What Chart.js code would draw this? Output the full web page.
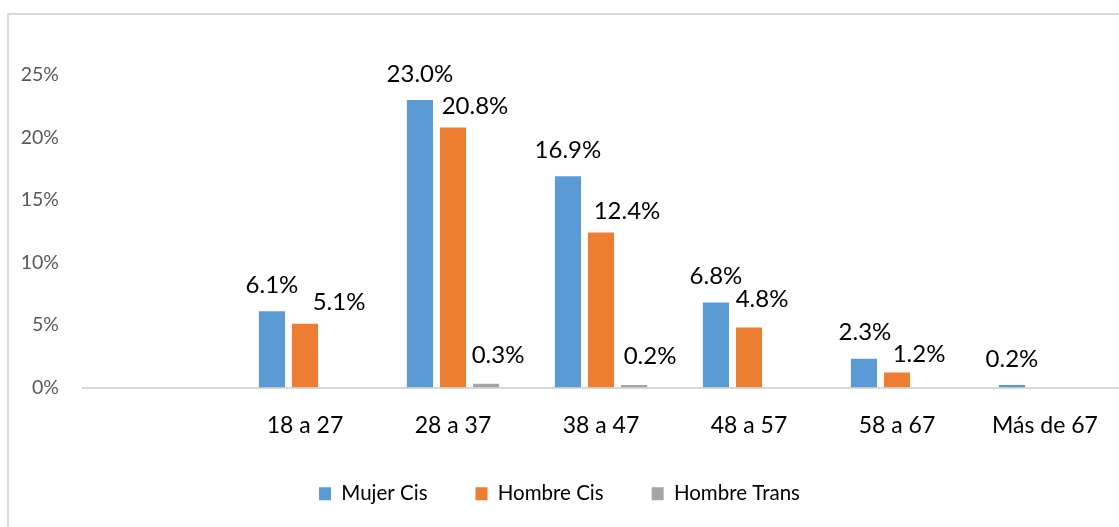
<!DOCTYPE html>
<html>
<head>
<meta charset="utf-8">
<script src="https://cdn.jsdelivr.net/npm/chart.js@4.4.1/dist/chart.umd.min.js"></script>
<style>
    body { margin: 0; background: #fff; overflow: hidden; }
    #frame {
        position: absolute; left: 7px; top: 13px; width: 1200px; height: 600px;
        border-left: 2px solid #d9d9d9; border-top: 2px solid #d9d9d9;
    }
    #chart { position: absolute; left: 0; top: 0; }
</style>
</head>
<body>
<div id="frame"></div>
<canvas id="chart" width="1119" height="527"></canvas>
<script>
// Age groups (first slot is an empty category, as in the original)
const categories = ['', '18 a 27', '28 a 37', '38 a 47', '48 a 57', '58 a 67', 'Más de 67'];

// Percentages per group
const mujerCis = [null, 6.1, 23.0, 16.9, 6.8, 2.3, 0.2];
const hombreCis = [null, 5.1, 20.8, 12.4, 4.8, 1.2, null];
const hombreTrans = [null, null, 0.3, 0.2, null, null, null];

const yTicks = [0, 5, 10, 15, 20, 25];

// label nudges [dx, dy] relative to the top centre of each bar
const labelNudge = [
    [[0, 0], [0, -26], [0, -26], [0, -26], [0, -26], [1, -26], [0, -26]],
    [[0, 0], [34, -21], [22, -21], [26, -21], [13, -28], [22, -18], [0, 0]],
    [[0, 0], [0, 0], [12, -28], [16, -29], [0, 0], [0, 0], [0, 0]]
];

const FONT = 'Lato, "Open Sans", sans-serif';

const dataLabels = {
    id: 'dataLabels',
    afterDatasetsDraw(chart) {
        const ctx = chart.ctx;
        ctx.save();
        ctx.font = '24px ' + FONT;
        ctx.fillStyle = '#000';
        ctx.textAlign = 'center';
        ctx.textBaseline = 'middle';
        chart.data.datasets.forEach((ds, di) => {
            const meta = chart.getDatasetMeta(di);
            meta.data.forEach((bar, i) => {
                const v = ds.data[i];
                if (v === null || v === undefined) return;
                const n = labelNudge[di][i];
                ctx.fillText(v.toFixed(1) + '%', bar.x + n[0], bar.y + n[1]);
            });
        });
        ctx.restore();
    }
};

const ctx = document.getElementById('chart').getContext('2d');
new Chart(ctx, {
    type: 'bar',
    data: {
        labels: categories,
        datasets: [
            { label: 'Mujer Cis', data: mujerCis, backgroundColor: '#5b9bd5' },
            { label: 'Hombre Cis', data: hombreCis, backgroundColor: '#ed7d31' },
            { label: 'Hombre Trans', data: hombreTrans, backgroundColor: '#a5a5a5' }
        ]
    },
    options: {
        responsive: false,
        animation: false,
        categoryPercentage: 0.67,
        barPercentage: 0.79,
        layout: { padding: { top: 75, left: 0, right: 0, bottom: 13 } },
        plugins: {
            tooltip: { enabled: false },
            legend: {
                position: 'bottom',
                labels: {
                    boxWidth: 12,
                    boxHeight: 13,
                    padding: 48,
                    color: '#000',
                    font: { family: FONT, size: 20.5 }
                }
            }
        },
        scales: {
            x: {
                // tick marks are hidden with the grid; tickLength only spaces the labels
                grid: { display: false, drawTicks: true, tickLength: 24 },
                border: { display: true, color: '#d9d9d9', width: 2 },
                ticks: {
                    color: '#000',
                    padding: 0,
                    font: { family: FONT, size: 23 }
                },
                afterFit: function(scale) { scale.height = 48; }
            },
            y: {
                min: 0,
                max: 25,
                grid: { display: false, drawTicks: false },
                border: { display: false },
                afterBuildTicks: function(scale) {
                    scale.ticks = yTicks.map(v => ({ value: v }));
                },
                ticks: {
                    color: '#595959',
                    padding: 24,
                    font: { family: FONT, size: 19.5 },
                    callback: function(value) { return value + '%'; }
                },
                afterFit: function(scale) { scale.width = 83; }
            }
        }
    },
    plugins: [dataLabels]
});
</script>
</body>
</html>
